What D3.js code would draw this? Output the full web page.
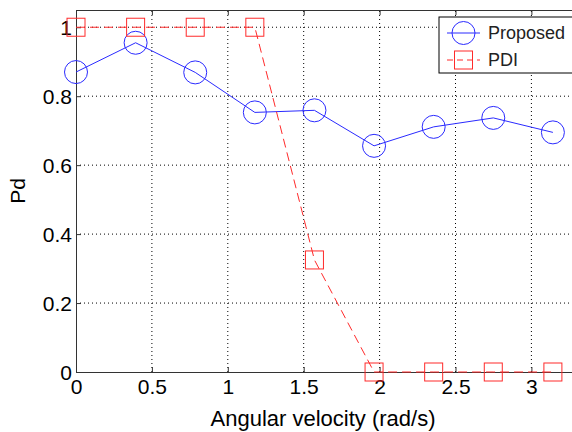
<!DOCTYPE html>
<head>
  <meta charset="utf-8">
  <title>Pd vs angular velocity</title>
  <script src="https://d3js.org/d3.v7.min.js"></script>
  <style>
    body { margin: 0; background: #fff; }
    svg { font-family: "Liberation Sans", Arial, sans-serif; }
    .tick text { font-size: 21px; fill: #000; }
  </style>
</head>
<body>
<script>

  // data: x = k*pi/8
  let velocity = [0, 0.3927, 0.7854, 1.1781, 1.5708, 1.9635, 2.3562, 2.7489, 3.1416];
  let proposed = [0.870, 0.955, 0.869, 0.753, 0.759, 0.656, 0.711, 0.737, 0.695];
  let pdi = [1, 1, 1, 1, 0.325, 0, 0, 0, 0];
  let xTicks = [0, 0.5, 1, 1.5, 2, 2.5, 3];
  let xTickLabels = ["0", "0.5", "1", "1.5", "2", "2.5", "3"];
  let yTicks = [0, 0.2, 0.4, 0.6, 0.8, 1];
  let yTickLabels = ["0", "0.2", "0.4", "0.6", "0.8", "1"];
  let seriesNames = ["Proposed", "PDI"];

  let width = 572;
  let height = 432;
  let plotLeft = 76, plotTop = 10, plotBottom = 372;

  let svg = d3.select("body").append("svg")
      .attr("width", width)
      .attr("height", height);

  let x = d3.scaleLinear().domain([0, 3.3]).range([plotLeft, plotLeft + 3.3 * 151.8]);
  let y = d3.scaleLinear().domain([0, 1.05]).range([plotBottom, plotTop]);
  let plotRight = x.range()[1];

  // grid
  let grid = svg.append("g").attr("id", "grid");
  grid.selectAll("line.gx")
    .data(xTicks.filter(d => d > 0))
    .enter().append("line")
    .attr("x1", d => x(d)).attr("x2", d => x(d))
    .attr("y1", plotBottom).attr("y2", plotTop)
    .style("stroke", "#000").style("stroke-dasharray", "1,3");
  grid.selectAll("line.gy")
    .data(yTicks.filter(d => d > 0))
    .enter().append("line")
    .attr("x1", plotLeft).attr("x2", plotRight)
    .attr("y1", d => y(d)).attr("y2", d => y(d))
    .style("stroke", "#000").style("stroke-dasharray", "1,3");

  // axes (MATLAB style: ticks inside, box on)
  let xAxis = svg.append("g")
    .attr("transform", "translate(0," + plotBottom + ")")
    .call(d3.axisBottom(x).tickValues(xTicks).tickSizeInner(-5).tickSizeOuter(0)
      .tickPadding(10).tickFormat((d, i) => xTickLabels[i]));
  let xTop = svg.append("g")
    .attr("transform", "translate(0," + plotTop + ")")
    .call(d3.axisTop(x).tickValues(xTicks).tickSizeInner(-5).tickSizeOuter(0).tickFormat(""));
  let yAxis = svg.append("g")
    .attr("transform", "translate(" + plotLeft + ",0)")
    .call(d3.axisLeft(y).tickValues(yTicks).tickSizeInner(-5).tickSizeOuter(0)
      .tickPadding(4).tickFormat((d, i) => yTickLabels[i]));
  svg.selectAll(".domain").style("stroke", "#333");
  svg.selectAll(".tick line").style("stroke", "#333");
  xAxis.selectAll(".tick text").attr("dy", "0.55em");
  yAxis.selectAll(".tick text").attr("dy", "0.36em");

  // series
  let line = d3.line().x(d => x(d[0])).y(d => y(d[1]));
  let blue = "#2a2aff", red = "#ff2a2a";

  let pdiData = velocity.map((v, i) => [v, pdi[i]]);
  let propData = velocity.map((v, i) => [v, proposed[i]]);

  svg.append("path")
    .datum(propData)
    .attr("d", line)
    .style("fill", "none").style("stroke", blue).style("stroke-width", 1);
  svg.selectAll("circle.prop")
    .data(propData)
    .enter().append("circle")
    .attr("cx", d => x(d[0])).attr("cy", d => y(d[1])).attr("r", 11.5)
    .style("fill", "none").style("stroke", blue).style("stroke-width", 1);

  svg.append("path")
    .datum(pdiData)
    .attr("d", line)
    .style("fill", "none").style("stroke", red).style("stroke-width", 1)
    .style("stroke-dasharray", "9,5");
  svg.selectAll("rect.pdi")
    .data(pdiData)
    .enter().append("rect")
    .attr("x", d => x(d[0]) - 9).attr("y", d => y(d[1]) - 9)
    .attr("width", 18).attr("height", 18)
    .style("fill", "none").style("stroke", red).style("stroke-width", 1);

  // labels
  svg.append("text")
    .attr("x", 323).attr("y", 426)
    .attr("text-anchor", "middle")
    .style("font-size", "22px")
    .text("Angular velocity (rad/s)");
  svg.append("text")
    .attr("transform", "translate(25," + ((plotTop + plotBottom) / 2) + ") rotate(-90)")
    .attr("text-anchor", "middle")
    .style("font-size", "21px")
    .text("Pd");

  // legend
  let legend = svg.append("g").attr("transform", "translate(439,17)");
  legend.append("rect")
    .attr("width", 150).attr("height", 56)
    .style("fill", "#fff").style("stroke", "#000").style("stroke-width", 1);
  let rows = legend.selectAll("g.row")
    .data(seriesNames)
    .enter().append("g")
    .attr("transform", (d, i) => "translate(0," + (16 + i * 27) + ")");
  rows.append("line")
    .attr("x1", 8).attr("x2", 41)
    .style("stroke", (d, i) => i ? red : blue)
    .style("stroke-dasharray", (d, i) => i ? "6,4" : null);
  rows.filter((d, i) => i === 0).append("circle")
    .attr("cx", 24.5).attr("r", 11.5)
    .style("fill", "none").style("stroke", blue);
  rows.filter((d, i) => i === 1).append("rect")
    .attr("x", 15.5).attr("y", -9).attr("width", 18).attr("height", 18)
    .style("fill", "none").style("stroke", red);
  rows.append("text")
    .attr("x", 49).attr("dy", "0.36em")
    .style("font-size", "18px").style("fill", "#222")
    .text(d => d);

</script>
</body>
